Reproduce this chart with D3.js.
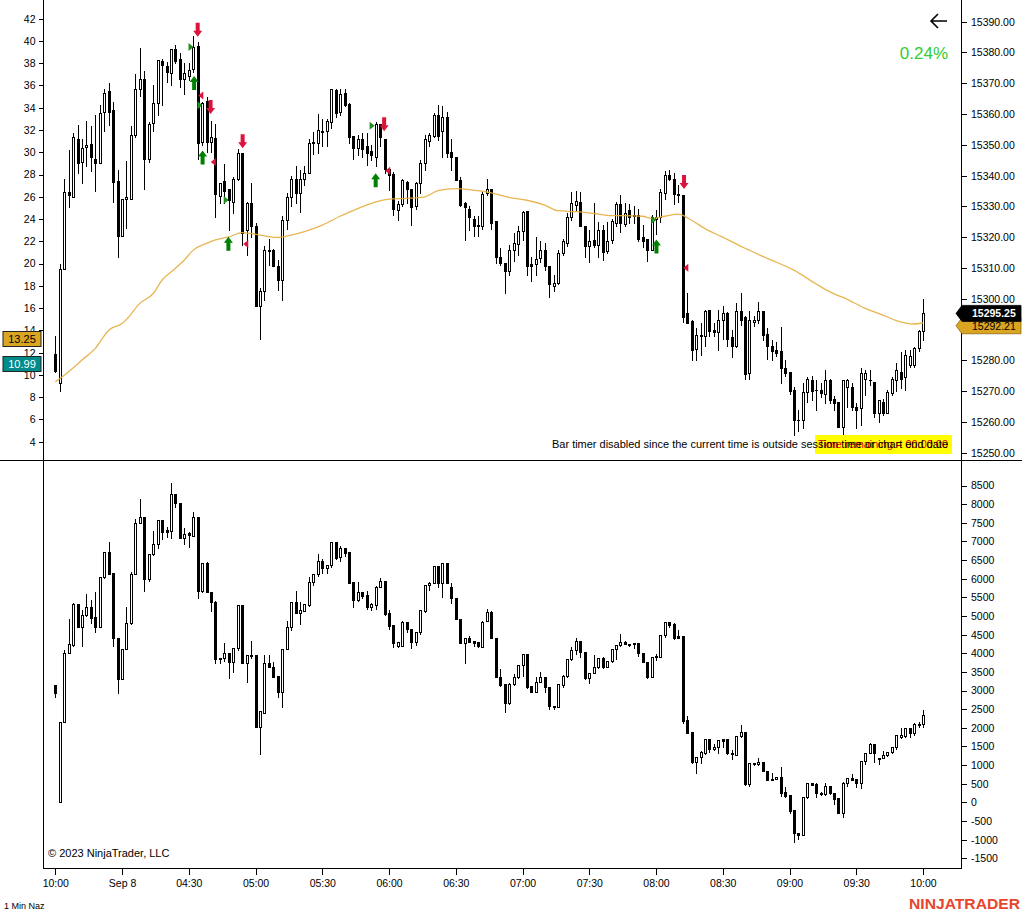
<!DOCTYPE html>
<html><head><meta charset="utf-8">
<script src="https://cdn.jsdelivr.net/npm/d3@7"></script>
<style>html,body{margin:0;padding:0;background:#fff;}svg{display:block;}text{font-family:Arial,"Liberation Sans",sans-serif;}</style>
</head><body><svg id="c" width="1022" height="914"></svg>
<script>
// ---------- DATA ----------
const tickIdx = [0,15,30,45,60,75,90,105,120,135,150,165,180,195];
const tickLabels = ["10:00","Sep 8","04:30","05:00","05:30","06:00","06:30","07:00","07:30","08:00","08:30","09:00","09:30","10:00"];
const topTicks = d3.range(15250, 15391, 10);
const leftTicks = d3.range(4, 43, 2);
const botTicks = d3.range(-1500, 8501, 500);

const topO = [15282.0,15272.5,15309.75,15334.75,15333.0,15352.0,15344.5,15349.25,15350.25,15345.5,
15344.25,15360.75,15367.5,15361.25,15338.25,15320.5,15332.25,15332.5,15353.25,15368.0,
15371.5,15345.5,15357.0,15363.5,15377.25,15375.75,15373.25,15381.25,15378.0,15371.5,
15372.5,15374.5,15382.0,15351.0,15364.25,15351.0,15352.25,15333.25,15338.25,15335.75,
15331.5,15339.0,15347.25,15322.25,15331.25,15323.5,15297.75,15302.5,15315.5,15316.0,
15310.5,15306.0,15325.5,15333.0,15339.0,15334.25,15338.75,15340.75,15350.75,15350.5,
15354.25,15354.5,15357.5,15367.75,15360.75,15366.75,15363.25,15352.75,15349.0,15351.75,
15349.5,15348.0,15346.0,15356.75,15352.0,15342.25,15340.5,15328.75,15330.75,15338.0,
15335.5,15330.0,15337.5,15344.25,15351.25,15352.75,15359.75,15354.5,15359.0,15347.75,
15346.0,15338.5,15331.0,15329.25,15325.75,15324.0,15323.5,15334.25,15335.5,15325.25,
15313.5,15311.75,15309.0,15316.0,15317.75,15322.0,15328.5,15311.25,15311.25,15313.25,
15316.0,15310.5,15304.0,15305.25,15315.0,15318.25,15326.5,15330.5,15331.5,15323.5,
15317.0,15319.0,15317.5,15322.5,15315.5,15319.0,15324.5,15330.75,15324.25,15328.75,
15327.0,15327.25,15320.0,15319.5,15316.0,15326.0,15326.5,15334.25,15340.25,15339.0,
15334.0,15333.75,15295.25,15292.75,15283.75,15288.25,15288.0,15296.25,15290.0,15289.25,
15293.25,15295.25,15287.5,15284.5,15296.0,15294.0,15275.75,15292.5,15293.25,15296.0,
15288.5,15284.5,15283.25,15283.0,15277.5,15276.25,15270.25,15260.75,15260.75,15269.75,
15273.75,15270.5,15270.5,15269.0,15273.5,15267.5,15266.5,15258.5,15271.5,15271.25,
15265.0,15264.5,15274.0,15273.75,15273.0,15263.0,15266.5,15263.0,15269.5,15273.75,
15276.25,15274.5,15278.5,15278.5,15284.0,15289.5];
const topH = [15288.0,15311.25,15339.0,15348.25,15354.0,15356.5,15352.0,15357.75,15356.0,15359.75,
15363.0,15368.0,15370.25,15364.0,15341.75,15332.5,15344.75,15356.0,15373.0,15381.5,
15374.0,15357.5,15369.5,15377.5,15378.0,15377.0,15381.0,15382.5,15379.75,15376.5,
15376.5,15385.5,15383.5,15364.0,15365.5,15357.75,15356.75,15337.5,15343.75,15335.75,
15339.5,15348.5,15347.25,15331.5,15337.5,15324.5,15303.5,15317.0,15319.5,15316.25,
15312.5,15326.75,15334.25,15339.75,15343.0,15341.75,15343.0,15351.75,15354.25,15360.0,
15358.25,15358.5,15368.0,15368.25,15368.25,15368.25,15363.75,15352.75,15353.25,15353.75,
15353.75,15350.0,15357.5,15356.75,15352.0,15342.25,15341.25,15331.75,15338.75,15338.25,
15335.5,15338.0,15345.0,15353.25,15353.75,15360.25,15363.0,15362.5,15360.75,15352.0,
15346.0,15339.5,15331.5,15330.0,15326.75,15326.75,15334.75,15339.0,15335.5,15325.25,
15316.5,15311.75,15317.5,15321.25,15323.5,15328.5,15328.5,15313.5,15320.0,15318.75,
15318.0,15310.5,15307.75,15316.0,15319.5,15327.75,15334.75,15335.0,15334.75,15323.5,
15322.25,15331.0,15325.0,15324.0,15325.0,15326.0,15331.5,15333.75,15331.0,15330.75,
15330.0,15329.0,15324.0,15319.5,15327.25,15328.75,15335.75,15341.5,15341.75,15340.75,
15337.0,15333.75,15301.75,15293.25,15290.5,15292.25,15296.25,15296.25,15292.0,15296.5,
15297.5,15295.75,15290.0,15298.5,15302.0,15294.25,15296.0,15294.25,15299.0,15296.0,
15290.5,15286.5,15286.0,15290.75,15280.25,15276.25,15271.25,15264.0,15272.75,15274.75,
15275.0,15273.5,15272.5,15277.0,15274.0,15268.5,15266.5,15273.75,15274.0,15272.5,
15266.25,15277.5,15276.75,15277.0,15273.0,15267.25,15267.5,15270.25,15274.5,15279.25,
15282.75,15283.25,15283.25,15284.25,15290.0,15300.0];
const topL = [15276.25,15270.0,15309.75,15329.75,15333.0,15341.0,15337.75,15343.25,15341.5,15335.0,
15344.25,15354.5,15356.5,15331.5,15313.5,15320.5,15323.0,15332.25,15352.5,15366.0,
15335.75,15344.5,15354.5,15359.75,15363.0,15370.5,15369.5,15376.5,15368.75,15366.5,
15371.0,15373.75,15345.5,15350.0,15347.75,15347.75,15326.5,15331.0,15331.0,15322.25,
15327.75,15338.5,15317.5,15314.25,15320.0,15297.75,15287.0,15299.5,15311.0,15310.5,
15302.75,15299.5,15322.75,15330.0,15331.25,15328.25,15337.0,15340.75,15347.0,15347.5,
15349.5,15349.5,15355.5,15359.0,15359.75,15362.5,15350.5,15345.25,15346.75,15346.0,
15343.5,15345.0,15343.0,15349.5,15340.75,15335.25,15327.25,15325.5,15330.0,15331.25,
15324.0,15329.25,15334.5,15341.75,15349.5,15352.5,15351.5,15346.0,15346.0,15341.75,
15338.5,15330.0,15319.25,15322.5,15320.5,15320.5,15322.75,15333.75,15322.75,15311.75,
15311.0,15301.75,15307.75,15312.25,15314.25,15319.0,15307.75,15305.75,15307.75,15312.0,
15309.25,15300.5,15302.5,15304.75,15314.25,15317.0,15325.5,15328.75,15323.75,15313.5,
15312.0,15316.75,15313.5,15312.5,15315.0,15318.0,15323.5,15321.75,15323.5,15324.5,
15324.5,15318.75,15316.75,15312.25,15315.75,15321.0,15325.0,15332.5,15338.5,15330.75,
15331.5,15292.5,15292.0,15280.25,15280.0,15281.75,15284.5,15287.75,15288.0,15283.25,
15287.0,15284.5,15281.0,15284.25,15291.5,15274.0,15274.0,15291.0,15292.0,15286.5,
15280.5,15280.0,15281.25,15272.5,15275.0,15269.0,15255.75,15257.0,15258.0,15266.5,
15267.25,15263.75,15268.25,15266.25,15266.0,15263.75,15258.5,15256.0,15264.75,15263.75,
15258.0,15259.0,15268.75,15272.0,15261.75,15260.0,15262.25,15262.75,15268.75,15270.0,
15271.0,15270.5,15277.75,15278.0,15283.0,15286.75];
const topC = [15276.5,15309.75,15334.75,15333.75,15352.5,15344.25,15349.0,15350.0,15346.0,15344.0,
15360.5,15367.0,15360.75,15338.0,15320.5,15332.25,15333.0,15353.25,15368.0,15371.25,
15345.25,15356.75,15363.75,15377.5,15376.0,15373.5,15381.0,15377.25,15371.25,15373.25,
15374.25,15381.75,15350.75,15363.75,15351.0,15352.5,15334.0,15337.5,15335.0,15332.0,
15339.0,15347.25,15321.25,15331.25,15323.5,15297.75,15302.5,15315.75,15316.0,15310.75,
15306.0,15325.5,15333.0,15339.0,15334.25,15339.0,15340.75,15350.5,15351.0,15354.75,
15354.5,15357.75,15368.0,15360.5,15366.5,15363.0,15352.5,15349.0,15351.75,15348.75,
15347.25,15346.75,15356.75,15352.5,15342.0,15340.25,15329.25,15330.75,15338.5,15335.5,
15329.75,15337.75,15344.0,15351.75,15353.25,15359.75,15352.75,15359.0,15347.25,15346.0,
15338.5,15330.5,15329.75,15326.5,15323.5,15323.75,15334.0,15335.75,15324.5,15313.5,
15311.75,15309.0,15315.75,15318.0,15322.0,15328.25,15310.5,15310.75,15313.0,15316.0,
15310.5,15304.75,15305.0,15315.0,15318.75,15326.5,15331.25,15331.75,15323.75,15317.0,
15318.75,15317.5,15322.25,15315.25,15318.75,15325.25,15330.75,15324.75,15328.0,15326.5,
15327.25,15319.5,15318.75,15316.0,15326.5,15326.5,15334.75,15340.25,15339.0,15334.0,
15333.75,15294.0,15292.25,15283.5,15288.25,15287.75,15296.0,15289.5,15289.25,15293.25,
15295.25,15287.0,15284.5,15296.0,15293.25,15275.5,15293.0,15293.0,15296.0,15288.25,
15284.5,15283.0,15282.5,15277.5,15276.0,15270.0,15260.75,15260.5,15269.75,15274.0,
15270.0,15270.25,15269.25,15273.5,15267.25,15266.25,15258.5,15273.5,15273.5,15264.75,
15264.0,15276.0,15276.0,15273.5,15263.0,15267.0,15263.0,15269.75,15274.0,15277.0,
15274.0,15281.75,15281.5,15284.0,15289.5,15295.25];

const botO = [3148,0,2146,3998,4222,5314,4714,5027,5233,4965,
4714,6056,6709,6146,4401,3301,4115,4804,6119,7506,
7649,5994,6656,6924,7577,7309,7282,8266,8025,7085,
7219,7157,7649,5680,6414,5654,5367,3837,3864,3998,
3757,4133,5296,3730,3954,3954,2030,2405,3729,3640,
3389,2969,4105,4713,5367,5089,5143,5295,5903,6127,
6476,6279,6369,6977,6574,6816,6709,5903,5429,5635,
5563,5250,5295,5787,5939,5071,4758,4195,4195,4830,
4642,4311,4579,5143,5832,5877,6342,5877,6413,5769,
5474,4910,4266,4400,4329,4311,4177,4866,5099,4401,
3372,3166,2656,3166,3372,3685,3971,3130,2969,3220,
3372,3103,2594,2567,3148,3399,3837,4088,4329,4025,
3345,3461,3622,3864,3640,3801,4106,4222,4293,4240,
4266,4266,3998,3774,3372,3891,3909,4490,4830,4777,
4463,4463,2209,1878,1091,1207,1332,1690,1422,1475,
1690,1690,1314,1270,1780,1878,491,1046,1019,1091,
849,617,617,670,276,187,-207,-815,-887,133,
509,491,259,223,438,241,107,-296,527,643,
617,527,1118,1332,1565,1153,1180,1270,1359,1493,
1744,1780,1985,1851,2075,2102];
const botH = [3150,2146,4088,4920,5340,5314,5161,5582,5430,5654,
6056,6709,6978,6146,4401,4115,5233,6172,7595,8141,
7649,6656,7282,7577,7577,7398,8561,8266,8025,7353,
7246,7783,7649,6414,6441,5654,5403,3882,4267,3998,
4133,5296,5296,3954,4329,3954,2451,3953,3953,3774,
3389,4105,4874,5367,5671,5367,5322,6038,6127,6655,
6521,6369,6977,6977,6879,6816,6709,5903,5903,5653,
5680,5358,5805,6011,5939,5161,4758,4311,4874,4848,
4642,4579,5161,5832,5921,6342,6342,6413,6413,5877,
5474,4910,4400,4463,4329,4311,4874,5188,5134,4401,
3578,3166,3193,3434,3685,3971,3971,3130,3372,3488,
3372,3103,2594,3166,3417,3837,4177,4401,4329,4025,
3461,3953,3864,3909,3801,4106,4222,4517,4329,4240,
4266,4266,3998,3774,3891,3971,4490,4830,4830,4803,
4624,4463,2316,1878,1225,1386,1690,1690,1565,1672,
1690,1690,1404,1780,2075,1878,1064,1064,1180,1091,
849,778,670,939,402,187,-207,-815,151,509,
509,509,286,509,438,241,107,554,643,760,
617,1118,1332,1583,1565,1180,1386,1359,1493,1807,
1985,1985,1985,2120,2164,2477];
const botL = [2835,0,2146,3998,4204,4714,4204,5009,4804,4562,
4714,6011,6119,4204,2925,3301,4115,4777,6119,7488,
5671,5940,6638,6835,7067,7130,7103,7935,7085,6924,
6861,7157,5493,5636,5636,5135,3748,3730,3793,3327,
3488,4088,3730,3220,3882,2030,1287,2387,3622,3371,
2835,2566,4105,4624,5071,4785,5143,5268,5832,6073,
6163,6145,6306,6521,6485,6610,5876,5250,5411,5474,
5188,5161,5179,5769,5026,4642,4159,4159,4195,4579,
4132,4221,4517,5116,5698,5877,5787,5519,5877,5358,
4910,4266,3729,4311,4195,4177,4159,4866,4401,3372,
3130,2432,2629,3148,3327,3399,3077,2969,2951,3220,
2969,2504,2504,2567,3103,3372,3819,3971,3909,3309,
3193,3461,3596,3613,3640,3774,3837,4204,4240,4204,
4132,3935,3774,3345,3372,3819,3909,4445,4714,4383,
4401,2119,1869,1064,795,1064,1297,1359,1404,1332,
1493,1297,1153,1270,1762,464,438,1001,1001,849,
599,599,617,169,151,-296,-1057,-994,-887,107,
464,133,196,196,223,-45,-296,-403,438,599,
402,375,1028,1332,1091,1028,1180,1243,1332,1422,
1717,1762,1762,1807,2030,2012];
const botC = [2925,2146,3998,4240,5314,4714,5027,5233,4956,4714,
6056,6709,6119,4401,3301,4115,4804,6119,7506,7649,
5994,6656,6924,7577,7264,7264,8266,8025,7085,7192,
7174,7649,5680,6414,5654,5367,3837,3864,3998,3757,
4133,5296,3730,3954,3940,2030,2451,3729,3622,3371,
2969,4105,4713,5367,5089,5161,5322,5903,6127,6476,
6279,6369,6977,6548,6816,6700,5894,5429,5635,5537,
5250,5322,5787,5939,5053,4731,4284,4311,4848,4642,
4311,4579,5161,5832,5877,6342,5877,6413,5877,5474,
4910,4266,4400,4311,4266,4195,4848,5099,4401,3372,
3148,2656,3166,3372,3685,3971,3103,2969,3220,3372,
3103,2594,2549,3166,3399,3837,4088,4329,4025,3327,
3461,3622,3864,3640,3801,4106,4222,4293,4240,4222,
4240,3998,3774,3372,3891,3927,4490,4830,4759,4419,
4419,2185,1869,1091,1207,1359,1690,1422,1493,1672,
1654,1314,1297,1780,1896,491,1046,1028,1091,849,
599,599,670,259,169,-225,-833,-887,151,509,
464,241,223,438,241,80,-296,527,643,599,
527,1118,1332,1565,1332,1180,1270,1359,1493,1807,
1807,1985,1851,2102,2102,2343];

// moving average (read at sample bars)
const smaIdx = [0,3,6,9,12,15,16,19,22,24,27,29,31,34,36,39,42,44,46,50,53,56,60,64,68,71,75,79,83,86,90,94,98,102,106,110,113,117,121,125,128,132,134,137,140,143,146,150,155,160,166,171,174,178,182,186,189,193,195];
const smaVal = [15273.0,15276.3,15280.1,15283.9,15289.8,15292.0,15293.3,15298.5,15301.7,15306.1,15309.9,15312.6,15315.8,15318.0,15319.1,15320.1,15321.5,15321.2,15320.7,15319.9,15320.7,15321.8,15323.9,15326.8,15329.3,15331.0,15332.4,15332.6,15333.1,15335.1,15335.8,15335.3,15334.4,15332.9,15332.0,15330.4,15328.6,15328.3,15327.7,15327.0,15327.0,15326.8,15326.1,15326.8,15327.5,15325.5,15322.8,15320.0,15316.4,15313.1,15309.3,15304.8,15302.3,15299.8,15296.9,15294.7,15292.9,15291.8,15292.21];

// signal markers [bar position, price]
const downIdx = [32.0,34.9,42.1,73.9,141.3], downVal = [15387.4,15362.3,15351.2,15356.7,15337.9];
const upIdx = [31.2,33.1,38.9,72.0,135.1], upVal = [15370.1,15345.9,15317.9,15338.5,15317.0];
const rtIdx = [30.5,32.5,38.4,71.2,134.5], rtVal = [15381.8,15362.9,15332.1,15356.2,15325.6];
const ltIdx = [32.7,35.5,42.8,74.7,141.7], ltVal = [15366.0,15344.4,15317.8,15341.6,15310.1];

const lastPrice = 15295.25, smaLast = 15292.21;
const leftLabels = [13.25, 10.99];
const pctText = "0.24%";

// ---------- DRAW ----------
const svg = d3.select("#c");
svg.append("rect").attr("width",1022).attr("height",914).attr("fill","#fff");

const x = d3.scaleLinear().domain([0,195]).range([55.3,923]);
const yTop = d3.scaleLinear().domain([15250,15390]).range([452.7,21.7]);
const yLeft = d3.scaleLinear().domain([4,42]).range([441.7,18.7]);
const yBot = d3.scaleLinear().domain([-1500,5000]).range([858.3,616]);

const FS = "10.5px";

// frame lines
const fr = svg.append("g").attr("stroke","#000").attr("stroke-width",1).attr("shape-rendering","crispEdges");
fr.append("line").attr("x1",961.5).attr("x2",961.5).attr("y1",0).attr("y2",868);
fr.append("line").attr("x1",43.5).attr("x2",43.5).attr("y1",0).attr("y2",868);
fr.append("line").attr("x1",0).attr("x2",1022).attr("y1",460.5).attr("y2",460.5);
fr.append("line").attr("x1",43).attr("x2",962).attr("y1",868.5).attr("y2",868.5);

function styleAxis(g){
  g.select(".domain").remove();
  g.selectAll("line").attr("stroke","#000").attr("shape-rendering","crispEdges");
  g.selectAll("text").attr("fill","#000").style("font-size",FS).style("font-family","Arial, 'Liberation Sans', sans-serif");
}
svg.append("g").attr("transform","translate(961.5,0)")
  .call(d3.axisRight(yTop).tickValues(topTicks).tickFormat(d=>d.toFixed(2)).tickSize(5).tickPadding(4.5)).call(styleAxis);
svg.append("g").attr("transform","translate(43.5,0)")
  .call(d3.axisLeft(yLeft).tickValues(leftTicks).tickFormat(d=>String(d)).tickSize(5).tickPadding(3)).call(styleAxis);
svg.append("g").attr("transform","translate(961.5,0)")
  .call(d3.axisRight(yBot).tickValues(botTicks).tickFormat(d=>String(d)).tickSize(5).tickPadding(4.5)).call(styleAxis);
svg.append("g").attr("transform","translate(0,868.5)")
  .call(d3.axisBottom(x).tickValues(tickIdx).tickFormat((d,i)=>tickLabels[i]).tickSize(6).tickPadding(5)).call(styleAxis);

// clip for panels
const defs = svg.append("defs");
defs.append("clipPath").attr("id","cpTop").append("rect").attr("x",44).attr("y",0).attr("width",917).attr("height",460);
defs.append("clipPath").attr("id","cpBot").append("rect").attr("x",44).attr("y",461).attr("width",917).attr("height",407);

function drawCandles(g, O, Hh, Ll, C, y){
  O.forEach((o,i)=>{
    const px = Math.round(x(i));
    const c = C[i];
    g.append("line").attr("x1",px+0.5).attr("x2",px+0.5)
      .attr("y1",Math.round(y(Hh[i]))).attr("y2",Math.round(y(Ll[i]))+1)
      .attr("stroke","#000").attr("stroke-width",1);
    const yt = Math.round(y(Math.max(o,c))), yb = Math.round(y(Math.min(o,c)));
    if (yb - yt < 1) {
      g.append("line").attr("x1",px-1).attr("x2",px+2).attr("y1",yt+0.5).attr("y2",yt+0.5)
        .attr("stroke","#000").attr("stroke-width",1);
    } else {
      g.append("rect").attr("x",px-0.5).attr("y",yt+0.5).attr("width",2).attr("height",yb-yt)
        .attr("fill", c < o ? "#000" : "#fff").attr("stroke","#000").attr("stroke-width",1);
    }
  });
}

const gTop = svg.append("g").attr("clip-path","url(#cpTop)").attr("shape-rendering","crispEdges");
drawCandles(gTop, topO, topH, topL, topC, yTop);
const gBot = svg.append("g").attr("clip-path","url(#cpBot)").attr("shape-rendering","crispEdges");
drawCandles(gBot, botO, botH, botL, botC, yBot);

// moving average
const smaPts = smaIdx.map((d,i)=>[d, smaVal[i]]);
svg.append("path").attr("clip-path","url(#cpTop)")
  .attr("d", d3.line().x(d=>x(d[0])).y(d=>yTop(d[1])).curve(d3.curveMonotoneX)(smaPts))
  .attr("fill","none").attr("stroke","#e5ad3e").attr("stroke-width",1.3).attr("opacity",0.9);

// markers
const mk = svg.append("g");
function downArrow(cx, cy){
  return `M${cx-2},${cy-7}L${cx+2},${cy-7}L${cx+2},${cy+1}L${cx+4.5},${cy+1}L${cx},${cy+7}L${cx-4.5},${cy+1}L${cx-2},${cy+1}Z`;
}
function upArrow(cx, cy){
  return `M${cx-2},${cy+7}L${cx+2},${cy+7}L${cx+2},${cy-1}L${cx+4.5},${cy-1}L${cx},${cy-7}L${cx-4.5},${cy-1}L${cx-2},${cy-1}Z`;
}
downIdx.forEach((d,i)=>mk.append("path").attr("d",downArrow(x(d),yTop(downVal[i]))).attr("fill","#dc143c"));
upIdx.forEach((d,i)=>mk.append("path").attr("d",upArrow(x(d),yTop(upVal[i]))).attr("fill","#008000"));
rtIdx.forEach((d,i)=>{const cx=x(d),cy=yTop(rtVal[i]);
  mk.append("path").attr("d",`M${cx-2.5},${cy-4}L${cx+2.5},${cy}L${cx-2.5},${cy+4}Z`).attr("fill","#1f8f1f");});
ltIdx.forEach((d,i)=>{const cx=x(d),cy=yTop(ltVal[i]);
  mk.append("path").attr("d",`M${cx+2.5},${cy-4}L${cx-2.5},${cy}L${cx+2.5},${cy+4}Z`).attr("fill","#dc143c");});

// right price labels
function priceTag(v, dy, fill, txtFill, bold){
  const cy = yTop(v) + dy;
  svg.append("path").attr("d",`M956,${cy}L962,${cy-8}L1021,${cy-8}L1021,${cy+8}L962,${cy+8}Z`)
    .attr("fill",fill).attr("stroke", fill==="#000"?"#000":"#8a6a10").attr("stroke-width",0.8);
  svg.append("text").attr("x",972).attr("y",cy+4).text(v.toFixed(2))
    .attr("fill",txtFill).style("font-size",FS).style("font-weight",bold?"bold":"normal");
}
priceTag(smaLast, 3, "#daa520", "#000", false);
priceTag(lastPrice, 0, "#000", "#fff", true);

// left labels
const lblFill = ["#daa520","#008b8b"], lblText = ["#000","#fff"];
leftLabels.forEach((v,i)=>{
  const cy = yLeft(v);
  svg.append("rect").attr("x",3).attr("y",Math.round(cy-8)+0.5).attr("width",38).attr("height",15)
    .attr("fill",lblFill[i]).attr("stroke","#222").attr("stroke-width",1);
  svg.append("text").attr("x",22).attr("y",Math.round(cy-8)+12).attr("text-anchor","middle")
    .text(v.toFixed(2)).attr("fill",lblText[i]).style("font-size","11px");
});

// top-right arrow and percent
svg.append("path").attr("d","M947,21L931,21M938,14L931,21L938,28").attr("fill","none")
  .attr("stroke","#000").attr("stroke-width",1.6);
svg.append("text").attr("x",948).attr("y",59).attr("text-anchor","end").text(pctText)
  .attr("fill","#32cd32").style("font-size","17px");

// bar timer messages
svg.append("rect").attr("x",815).attr("y",435).attr("width",137).attr("height",19).attr("fill","#ffff00");
svg.append("text").attr("x",818).attr("y",448).text("Time remaining = 00:00:00")
  .attr("fill","#e00000").style("font-size","11px").attr("textLength",130).attr("lengthAdjust","spacingAndGlyphs");
svg.append("text").attr("x",552).attr("y",448).text("Bar timer disabled since the current time is outside session time or chart end date")
  .attr("fill","#000").style("font-size","11px").attr("textLength",396).attr("lengthAdjust","spacingAndGlyphs");

// footer texts
svg.append("text").attr("x",48).attr("y",857).text("© 2023 NinjaTrader, LLC").attr("fill","#000").style("font-size","11px");
svg.append("text").attr("x",4).attr("y",909).text("1 Min Naz").attr("fill","#000").style("font-size","9px");
svg.append("text").attr("x",909).attr("y",909).text("NINJATRADER").attr("fill","#e8452c")
  .style("font-size","14px").style("font-weight","bold").attr("textLength",111).attr("lengthAdjust","spacingAndGlyphs");
</script></body></html>
